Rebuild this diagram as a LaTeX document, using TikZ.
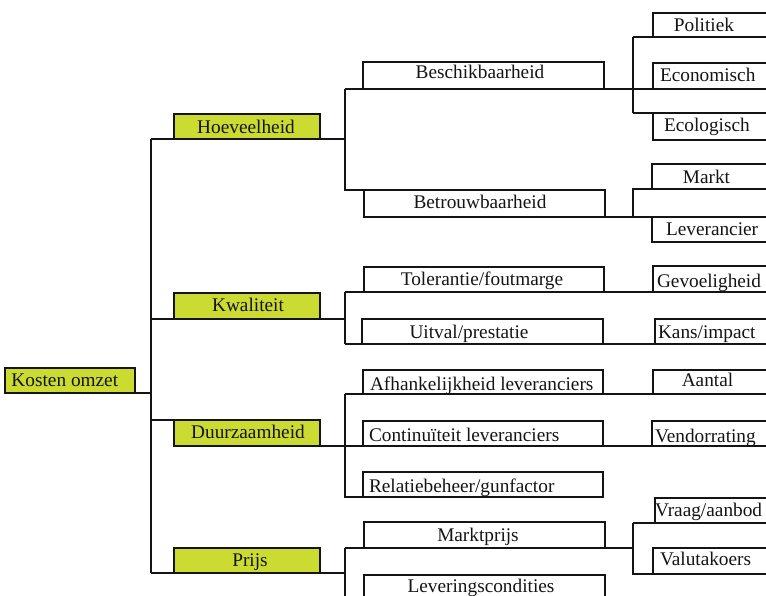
\documentclass[tikz,border=0pt]{standalone}
\usepackage{fontspec}
\setmainfont{Liberation Serif}
\definecolor{lime}{RGB}{203,219,50}
\definecolor{ink}{RGB}{20,20,20}
\tikzset{
  bx/.style={draw=ink, line width=1.3pt, inner sep=0pt, outer sep=0pt, anchor=north west, minimum width=#1},
  bx/.default=240pt,
  hl/.style={fill=lime},
  lbl/.style={inner sep=0pt, outer sep=0pt, text=ink, font=\fontsize{19.3}{22}\selectfont},
  ln/.style={draw=ink, line width=1.3pt}
}
\begin{document}
\begin{tikzpicture}[x=1pt,y=-1pt]
\useasboundingbox (0,0) rectangle (766,596);
\clip (0,0) rectangle (766,596);
% trunk positions
\coordinate (T) at (151,0);
\coordinate (S) at (345,0);
\coordinate (R) at (633,0);
% level 0
\node[bx=130pt, hl, minimum height=25pt] (root) at (5,368) {};
% level 1
\node[bx=146pt, hl, minimum height=25pt] (hoe) at (174,114) {};
\node[bx=146pt, hl, minimum height=26pt] (kwal) at (174,293) {};
\node[bx=146pt, hl, minimum height=26pt] (duur) at (174,420) {};
\node[bx=146pt, hl, minimum height=25pt] (prijs) at (174,548) {};
% level 2
\node[bx=241pt, minimum height=27pt] (besch) at (363,62) {};
\node[bx=241pt, minimum height=27pt] (betr) at (364,190) {};
\node[bx=240pt, minimum height=25pt] (tol) at (364,267) {};
\node[bx=241pt, minimum height=25pt] (uit) at (362,319) {};
\node[bx=240pt, minimum height=24pt] (afh) at (363,370) {};
\node[bx=240pt, minimum height=25pt] (cont) at (363,421) {};
\node[bx=240pt, minimum height=25pt] (rel) at (363,472) {};
\node[bx=241pt, minimum height=26pt] (mprijs) at (364,522) {};
\node[bx=241pt, minimum height=30pt] (lev2) at (364,575) {};
% level 3
\node[bx=150pt, minimum height=24pt] (pol) at (653,13) {};
\node[bx=150pt, minimum height=26pt] (econ) at (653,63) {};
\node[bx=150pt, minimum height=27pt] (ecol) at (653,113) {};
\node[bx=150pt, minimum height=25pt] (markt) at (652,164) {};
\node[bx=150pt, minimum height=25pt] (lever) at (652,217) {};
\node[bx=150pt, minimum height=26pt] (gev) at (653,266) {};
\node[bx=150pt, minimum height=25pt] (kans) at (655,319) {};
\node[bx=150pt, minimum height=24pt] (aant) at (653,370) {};
\node[bx=150pt, minimum height=25pt] (vend) at (652,421) {};
\node[bx=150pt, minimum height=25pt] (vraag) at (655,498) {};
\node[bx=150pt, minimum height=26pt] (val) at (653,548) {};
% labels
\node[lbl, anchor=base west] (t-root) at (11.5,386) {Kosten omzet};
\node[lbl, anchor=base] (t-hoe) at (246,134) {Hoeveelheid};
\node[lbl, anchor=base] (t-kwal) at (248,312) {Kwaliteit};
\node[lbl, anchor=base] (t-duur) at (248,438.5) {Duurzaamheid};
\node[lbl, anchor=base] (t-prijs) at (250,566) {Prijs};
\node[lbl, anchor=base] (t-besch) at (480,79) {Beschikbaarheid};
\node[lbl, anchor=base] (t-betr) at (480,209) {Betrouwbaarheid};
\node[lbl, anchor=base] (t-tol) at (482,286) {Tolerantie/foutmarge};
\node[lbl, anchor=base] (t-uit) at (469,338) {Uitval/prestatie};
\node[lbl, anchor=base west] (t-afh) at (370,390) {Afhankelijkheid leveranciers};
\node[lbl, anchor=base west] (t-cont) at (369,441) {Continuïteit leveranciers};
\node[lbl, anchor=base west] (t-rel) at (369,492) {Relatiebeheer/gunfactor};
\node[lbl, anchor=base] (t-mprijs) at (478,541) {Marktprijs};
\node[lbl, anchor=base] (t-lev2) at (481,592) {Leveringscondities};
\node[lbl, anchor=base] (t-pol) at (704,32) {Politiek};
\node[lbl, anchor=base west] (t-econ) at (660,82) {Economisch};
\node[lbl, anchor=base west] (t-ecol) at (664,132) {Ecologisch};
\node[lbl, anchor=base] (t-markt) at (706.5,183.5) {Markt};
\node[lbl, anchor=base west] (t-lever) at (666,236) {Leverancier};
\node[lbl, anchor=base west] (t-gev) at (657,287.5) {Gevoeligheid};
\node[lbl, anchor=base west] (t-kans) at (658,338) {Kans/impact};
\node[lbl, anchor=base] (t-aant) at (707.5,386) {Aantal};
\node[lbl, anchor=base west] (t-vend) at (655,442) {Vendorrating};
\node[lbl, anchor=base west] (t-vraag) at (655,516) {Vraag/aanbod};
\node[lbl, anchor=base west] (t-val) at (660,565) {Valutakoers};
% connectors: root and main trunk
\draw[ln] (root.south east) -- (root.south east -| T);
\draw[ln] (hoe.south -| T) -- (prijs.south -| T);
% Hoeveelheid
\draw[ln] (hoe.south -| T) -- (hoe.south -| S);
\draw[ln] (besch.south -| S) -- (betr.north -| S) -- (betr.north west);
\draw[ln] (besch.south -| S) -- (econ.south east);
\draw[ln] (pol.south -| R) -- (ecol.north -| R);
\draw[ln] (pol.south -| R) -- (pol.south east);
\draw[ln] (ecol.north -| R) -- (ecol.north east);
\draw[ln] (betr.south west) -- (lever.north east);
\draw[ln] (betr.south -| R) -- (markt.south -| R) -- (markt.south east);
% Kwaliteit
\draw[ln] (kwal.south -| T) -- (kwal.south -| S);
\draw[ln] (tol.south -| S) -- (uit.south -| S);
\draw[ln] (tol.south -| S) -- (gev.south east);
\draw[ln] (uit.south -| S) -- (kans.south east);
% Duurzaamheid
\draw[ln] (duur.north west -| T) -- (duur.north west);
\draw[ln] (duur.south east) -- (vend.south east);
\draw[ln] (afh.south -| S) -- (rel.south -| S) -- (rel.south west);
\draw[ln] (afh.south -| S) -- (aant.south east);
% Prijs
\draw[ln] (prijs.south -| T) -- (prijs.south -| S);
\draw[ln] (mprijs.south -| S) -- (lev2.south -| S);
\draw[ln] (mprijs.south -| S) -- (mprijs.south -| R);
\draw[ln] (vraag.south -| R) -- (val.south -| R) -- (val.south east);
\draw[ln] (vraag.south -| R) -- (vraag.south west);
\end{tikzpicture}
\end{document}
